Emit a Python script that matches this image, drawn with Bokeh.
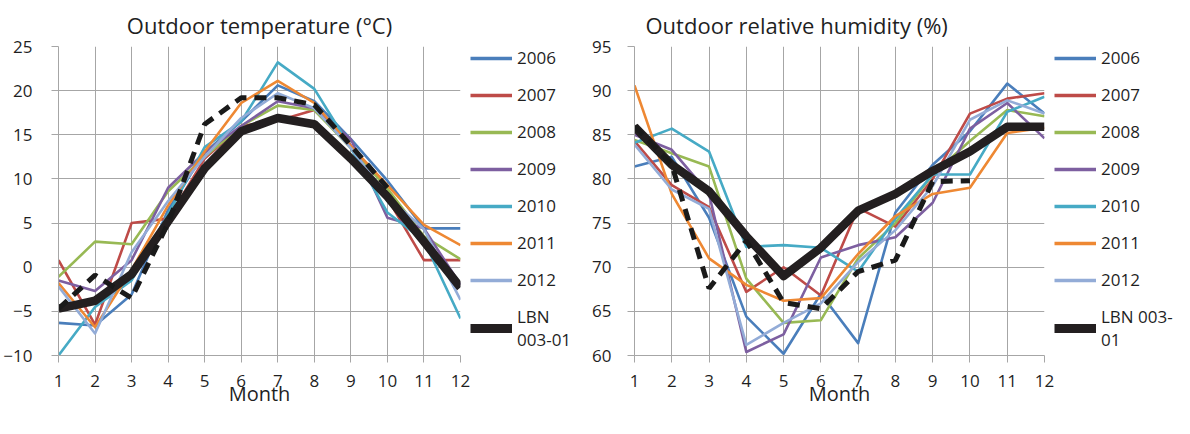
from bokeh.plotting import figure
from bokeh.models import Range1d, Legend, LegendItem, FixedTicker
from bokeh.layouts import row
from bokeh.embed import file_html
from bokeh.resources import INLINE

NAN = float("nan")

months = [1, 2, 3, 4, 5, 6, 7, 8, 9, 10, 11, 12]
year_names = ["2006", "2007", "2008", "2009", "2010", "2011", "2012"]
year_colors = ["#4A7EBB", "#BE4B48", "#98B954", "#7D5FA0", "#46AAC5", "#EE8833", "#93ACD7"]

temp_ticks = [-10, -5, 0, 5, 10, 15, 20, 25]
hum_ticks = [60, 65, 70, 75, 80, 85, 90, 95]

# Outdoor temperature (deg C)
temp_2006 = [-6.3, -6.6, -3.1, 6.5, 13.0, 16.5, 20.6, 18.8, 14.5, 9.8, 4.4, 4.4]
temp_2007 = [0.8, -6.5, 5.0, 5.5, 12.3, 16.0, 16.6, 17.8, 13.8, 7.8, 0.8, 0.8]
temp_2008 = [-1.1, 2.9, 2.6, 8.6, 12.5, 16.0, 18.3, 17.8, 13.5, 8.9, 3.5, 0.9]
temp_2009 = [-1.5, -2.7, 0.8, 9.0, 13.0, 16.0, 18.8, 18.0, 14.5, 5.6, 4.4, -2.0]
temp_2010 = [-10.0, -4.5, -1.5, 6.0, 13.6, 16.5, 23.2, 20.2, 13.5, 6.2, 3.0, -5.8]
temp_2011 = [-1.8, -6.8, -0.3, 7.0, 13.1, 18.6, 21.1, 18.6, 13.7, 9.3, 4.8, 2.5]
temp_2012 = [-2.2, -7.5, 1.7, 7.5, 12.5, 16.9, 19.7, 18.0, 13.5, 8.0, 4.3, -3.7]
temp_lbn = [-4.7, -3.8, -0.8, 5.2, 11.2, 15.4, 16.9, 16.2, 12.3, 8.0, 2.9, -2.3]
temp_dashed = [-4.7, -0.9, -3.5, 5.0, 16.2, 19.2, 19.2, 18.4, 13.8, 9.0, NAN, NAN]

# Outdoor relative humidity (%)
hum_2006 = [81.4, 82.5, 75.6, 64.4, 60.2, 67.0, 61.4, 76.2, 81.6, 85.4, 90.8, 87.4]
hum_2007 = [84.3, 79.3, 76.8, 67.2, 70.0, 66.8, 76.7, 74.6, 80.0, 87.4, 89.1, 89.7]
hum_2008 = [84.4, 82.9, 81.4, 68.7, 63.7, 64.0, 71.0, 75.0, 80.5, 84.3, 87.8, 87.1]
hum_2009 = [85.0, 83.3, 78.3, 60.4, 62.4, 71.1, 72.5, 73.4, 77.3, 85.7, 88.6, 84.6]
hum_2010 = [84.1, 85.7, 83.1, 72.3, 72.5, 72.2, 69.5, 75.5, 80.5, 80.5, 87.6, 89.3]
hum_2011 = [90.6, 78.3, 71.0, 68.0, 66.2, 66.5, 71.5, 75.8, 78.3, 79.0, 85.2, 85.8]
hum_2012 = [83.9, 78.8, 76.6, 61.2, 63.7, 65.9, 70.6, 74.2, 79.2, 86.7, 88.9, 87.4]
hum_lbn = [85.9, 81.6, 78.6, 73.5, 69.0, 72.2, 76.4, 78.3, 80.9, 83.1, 85.9, 85.9]
hum_dashed = [86.0, 81.6, 67.6, 73.0, 66.0, 65.3, 69.5, 70.8, 79.7, 79.8, NAN, NAN]

temp_title = "Outdoor temperature (°C)"
hum_title = "Outdoor relative humidity (%)"
x_label = "Month"
temp_lbn_label = "LBN\n003-01"
hum_lbn_label = "LBN 003-\n01"

FONT = "Open Sans"
GRID = "#a6a6a6"
TXT = "#1f1f1f"
LBN_COLOR = "#231f20"
H = 418


def make_chart(width, bl, br, bt, frame_h, yrange, yticks, title, series, lbn, dashed,
               title_align, title_offset, title_standoff, ystandoff, xlab_standoff):
    p = figure(width=width, height=H, x_range=Range1d(1, 12), y_range=Range1d(*yrange),
               output_backend="svg", toolbar_location=None,
               min_border_left=bl, min_border_right=br, min_border_top=bt,
               min_border_bottom=H - bt - frame_h)
    p.title.text = title
    p.title.text_font = FONT
    p.title.text_font_size = "22px"
    p.title.text_font_style = "normal"
    p.title.text_color = TXT
    p.title.align = title_align
    p.title.offset = title_offset
    p.title.standoff = title_standoff
    p.outline_line_color = None

    p.xaxis.ticker = FixedTicker(ticks=months)
    p.yaxis.ticker = FixedTicker(ticks=yticks)
    for ax in (p.xaxis[0], p.yaxis[0]):
        ax.axis_line_color = GRID
        ax.major_tick_line_color = GRID
        ax.major_tick_out = 7
        ax.major_tick_in = 0
        ax.minor_tick_line_color = None
        ax.major_label_text_font = FONT
        ax.major_label_text_font_size = "17px"
        ax.major_label_text_color = TXT
    p.xaxis.major_label_standoff = 12
    p.yaxis.major_label_standoff = ystandoff
    p.xaxis.axis_label = x_label
    p.xaxis.axis_label_text_font = FONT
    p.xaxis.axis_label_text_font_size = "20px"
    p.xaxis.axis_label_text_font_style = "normal"
    p.xaxis.axis_label_text_color = TXT
    p.xaxis.axis_label_standoff = xlab_standoff
    p.xgrid.grid_line_color = GRID
    p.ygrid.grid_line_color = GRID
    p.xgrid.ticker = FixedTicker(ticks=months)
    p.ygrid.ticker = FixedTicker(ticks=yticks)

    for color, vals in zip(year_colors, series):
        p.line(months, vals, line_color=color, line_width=2.6, line_join="round")
    p.line(months, lbn, line_color=LBN_COLOR, line_width=8.5, line_join="round")
    p.line(months, dashed, line_color="#1a1a1a", line_width=5, line_dash="12 8")
    return p


def make_legend(width, top, series, lbn, lbn_label):
    # a figure that only hosts the legend; its renderers lie outside its (empty) ranges
    q = figure(width=width, height=H, x_range=Range1d(-3, -2), y_range=Range1d(-300, -200),
               x_axis_type=None, y_axis_type=None, output_backend="svg", toolbar_location=None,
               min_border_left=0, min_border_right=0, min_border_top=top, min_border_bottom=0)
    q.outline_line_color = None
    items = []
    for name, color, vals in zip(year_names, year_colors, series):
        r = q.line(months, vals, line_color=color, line_width=3.5)
        items.append(LegendItem(label=name, renderers=[r]))
    rl = q.line(months, lbn, line_color=LBN_COLOR, line_width=9)
    items.append(LegendItem(label=lbn_label, renderers=[rl]))
    leg = Legend(items=items, location="top_left", orientation="vertical",
                 label_text_font=FONT, label_text_font_size="17px", label_text_color=TXT,
                 glyph_width=42, glyph_height=20, label_height=20, label_standoff=5,
                 spacing=14, padding=0, margin=0,
                 border_line_alpha=0, background_fill_alpha=0)
    q.add_layout(leg, "center")
    return q


temp_series = [temp_2006, temp_2007, temp_2008, temp_2009, temp_2010, temp_2011, temp_2012]
hum_series = [hum_2006, hum_2007, hum_2008, hum_2009, hum_2010, hum_2011, hum_2012]

p1 = make_chart(470, 51, 10, 37, 318, (-10, 25), temp_ticks, temp_title, temp_series,
                temp_lbn, temp_dashed, "center", 0, 14, 19, -10)
l1 = make_legend(112, 32, temp_series, temp_lbn, temp_lbn_label)
p2 = make_chart(472, 52, 10, 46, 312, (60, 95), hum_ticks, hum_title, hum_series,
                hum_lbn, hum_dashed, "left", 11, 14, 16, -10)
l2 = make_legend(120, 40, hum_series, hum_lbn, hum_lbn_label)

layout = row(p1, l1, p2, l2)
open("out.html", "w").write(file_html(layout, INLINE))
